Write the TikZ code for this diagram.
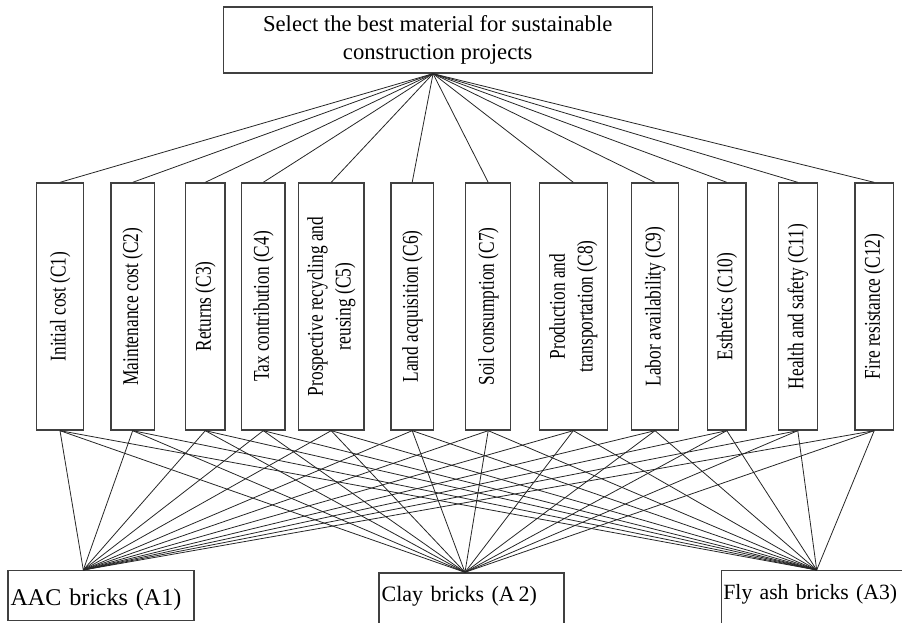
\documentclass[tikz,border=0pt]{standalone}
\usepackage{fontspec}
\setmainfont{Liberation Serif}
\usepackage{graphicx}

\newcommand{\critlabel}[1]{\rotatebox{90}{\scalebox{1}[1.3]{\begin{tabular}{@{}c@{}}#1\end{tabular}}}}

\tikzset{
  box/.style={draw=black!75, line width=1pt, inner sep=0pt},
  crit/.style={box, minimum height=185.25pt, font=\fontsize{13}{16}\selectfont},
  alt/.style={box, anchor=north west, inner xsep=2pt, inner ysep=0pt, align=left},
  link/.style={black!85, line width=0.6pt}
}

\begin{document}
\begin{tikzpicture}[x=0.75pt,y=-0.75pt]
\useasboundingbox (0,0) rectangle (902,623);
\clip (0,0) rectangle (902,623);

\node[box, minimum width=321.75pt, minimum height=49.5pt, align=center,
  font=\fontsize{17}{21}\selectfont] (goal) at (437.7,40)
  {Select the best material for sustainable\\construction projects};

\node[crit, minimum width=35pt]    (c1)  at (60,306.5)    {\critlabel{Initial cost (C1)}};
\node[crit, minimum width=32.5pt]  (c2)  at (132.7,306.5) {\critlabel{Maintenance cost (C2)}};
\node[crit, minimum width=29.5pt]  (c3)  at (205.3,306.5) {\critlabel{Returns (C3)}};
\node[crit, minimum width=32.5pt]  (c4)  at (263.3,306.5) {\critlabel{Tax contribution (C4)}};
\node[crit, minimum width=49.3pt]  (c5)  at (331.2,306.5) {\critlabel{Prospective recycling and\\reusing (C5)}};
\node[crit, minimum width=31.7pt]  (c6)  at (412.2,306.5) {\critlabel{Land acquisition (C6)}};
\node[crit, minimum width=33.75pt] (c7)  at (488.2,306.5) {\critlabel{Soil consumption (C7)}};
\node[crit, minimum width=51pt]    (c8)  at (573.3,306.5) {\critlabel{Production and\\transportation (C8)}};
\node[crit, minimum width=35pt]    (c9)  at (655,306.5)   {\critlabel{Labor availability (C9)}};
\node[crit, minimum width=28.7pt]  (c10) at (726.8,306.5) {\critlabel{Esthetics (C10)}};
\node[crit, minimum width=29.25pt] (c11) at (797.8,306.5) {\critlabel{Health and safety (C11)}};
\node[crit, minimum width=28.7pt]  (c12) at (874.2,306.5) {\critlabel{Fire resistance (C12)}};

\node[alt, text width=135.5pt, text height=26pt, text depth=11.5pt,
  font=\fontsize{18}{21}\selectfont] (a1) at (7.3,570) {AAC bricks (A1)};
\node[alt, text width=134.75pt, text height=21.5pt, text depth=45pt,
  font=\fontsize{16.5}{20}\selectfont] (a2) at (378.3,572.3) {Clay bricks (A\,2)};
\node[alt, text width=140pt, text height=21.5pt, text depth=45pt, inner xsep=1.5pt,
  font=\fontsize{16.3}{20}\selectfont] (a3) at (720.7,570) {Fly ash bricks (A3)};

\coordinate (hub) at ([xshift=-3.5pt]goal.south);
\coordinate (a1-in) at ([xshift=57pt]a1.north west);
\coordinate (a2-in) at ([xshift=65pt]a2.north west);
\coordinate (a3-in) at ([xshift=72pt]a3.north west);

\foreach \i in {1,...,12} {
   \draw [link] (hub) -- (c\i.north);
   \foreach \a in {1,2,3}
      \draw [link] (c\i.south) -- (a\a-in);
}

\end{tikzpicture}
\end{document}
